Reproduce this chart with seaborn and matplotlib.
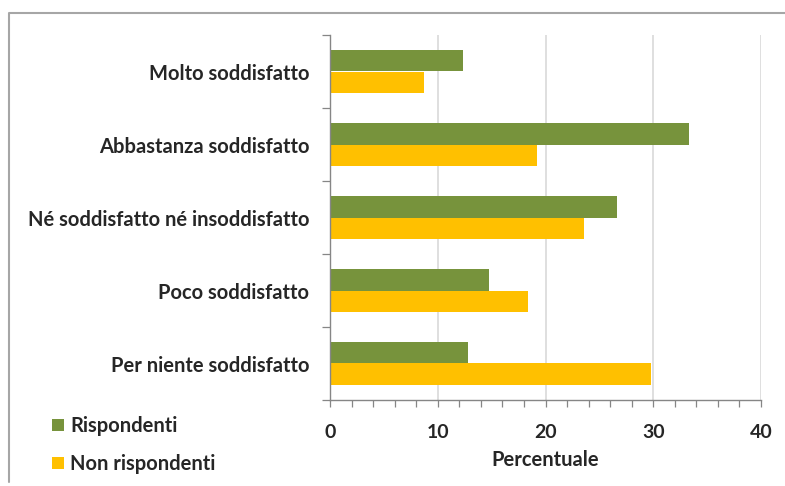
import matplotlib
matplotlib.use("Agg")
import matplotlib.pyplot as plt
import seaborn as sns
import pandas as pd
from matplotlib.lines import Line2D
from matplotlib.ticker import MultipleLocator

categories = [
    "Molto soddisfatto",
    "Abbastanza soddisfatto",
    "Né soddisfatto né insoddisfatto",
    "Poco soddisfatto",
    "Per niente soddisfatto",
]
series_names = ["Rispondenti", "Non rispondenti"]
rispondenti = [12.3, 33.3, 26.6, 14.8, 12.8]
non_rispondenti = [8.7, 19.2, 23.6, 18.4, 29.8]
x_ticks = [0, 10, 20, 30, 40]

colors = {"Rispondenti": "#77933C", "Non rispondenti": "#FFC000"}

df = pd.DataFrame({
    "Categoria": categories * 2,
    "Valore": rispondenti + non_rispondenti,
    "Gruppo": [series_names[0]] * len(categories) + [series_names[1]] * len(categories),
})

sns.set_style("white")
plt.rcParams["font.family"] = ["Lato", "DejaVu Sans"]
plt.rcParams["font.weight"] = "bold"

fig = plt.figure(figsize=(7.85, 4.86), dpi=100)
ax = fig.add_axes([330 / 785, 1 - 400 / 486, (761 - 330) / 785, (400 - 35) / 486])

sns.barplot(
    data=df, y="Categoria", x="Valore", hue="Gruppo", order=categories,
    hue_order=series_names, palette=colors, orient="h", width=0.58,
    gap=0, saturation=1, ax=ax, legend=False, linewidth=0,
)

ax.set_xlim(0, 40)
ax.set_ylim(len(categories) - 0.5, -0.5)
ax.set_xticks(x_ticks)
ax.set_xticklabels([str(t) for t in x_ticks], fontsize=14, fontweight="bold")
ax.xaxis.set_minor_locator(MultipleLocator(2))
ax.tick_params(axis="x", which="both", direction="out", length=5, width=0.9,
               color="#868686", pad=12, bottom=True)

ax.set_yticks(range(len(categories)))
ax.set_yticklabels(categories, fontsize=14.5, fontweight="bold")
ax.set_yticks([i - 0.5 for i in range(len(categories) + 1)], minor=True)
ax.tick_params(axis="y", which="major", length=0, pad=15)
ax.tick_params(axis="y", which="minor", direction="out", length=6, width=0.9,
               color="#868686", left=True)

ax.grid(axis="x", color="#D9D9D9", linewidth=1.2)
ax.set_axisbelow(True)
for side in ["top", "right"]:
    ax.spines[side].set_visible(False)
for side in ["left", "bottom"]:
    ax.spines[side].set_color("#868686")
    ax.spines[side].set_linewidth(1.0)

ax.set_ylabel("")
ax.set_xlabel("Percentuale", fontsize=14.5, fontweight="bold", labelpad=7)

handles = [
    Line2D([], [], marker="s", linestyle="none", markersize=9,
           markerfacecolor=colors[n], markeredgewidth=0)
    for n in series_names
]
fig.legend(handles, series_names, loc="center left",
           bbox_to_anchor=(44 / 785, 1 - 445 / 486), frameon=False,
           fontsize=14.5, handlelength=0.6, handletextpad=0.3,
           labelspacing=0.85, borderaxespad=0)

# chart frame (top and left edges)
fig.add_artist(Line2D([9 / 785, 9 / 785, 1.0], [1 - 482 / 486, 1 - 13 / 486, 1 - 13 / 486],
                      transform=fig.transFigure, color="#A6A6A6", linewidth=1.5))

fig.savefig("out.png", dpi=100, facecolor="white")
